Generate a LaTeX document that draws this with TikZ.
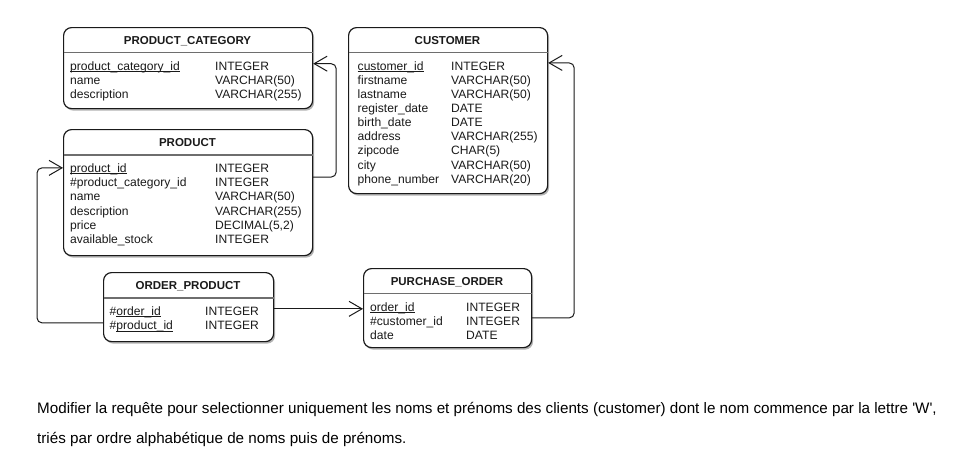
\documentclass[tikz,border=0pt]{standalone}
\usepackage{fontspec}
\setmainfont{Liberation Sans}[Ligatures=TeXOff]
\usetikzlibrary{shadows,arrows.meta}
\definecolor{ink}{HTML}{1A1A1A}
\definecolor{sepc}{HTML}{6E6E6E}
\newcommand\ulfld[1]{\setbox0\hbox{#1}\rlap{\rule[-1.6pt]{\wd0}{0.7pt}}\box0}
\tikzset{
  tbl/.style={draw=ink, line width=1.2pt, rounded corners=8pt, fill=white,
    anchor=north west, inner sep=0pt,
    drop shadow={shadow xshift=1.5pt, shadow yshift=-2pt, fill=black, opacity=0.3}},
  ttl/.style={font=\bfseries\fontsize{11.5}{13}\selectfont, anchor=base, inner sep=0pt, text=ink},
  fld/.style={font=\fontsize{12.1}{13}\selectfont, anchor=base west, inner sep=0pt, text=ink},
  sepl/.style={draw=sepc, line width=1.6pt},
  conn/.style={draw=ink, line width=1pt, rounded corners=5pt},
  tip/.style={-{Straight Barb[length=13pt,width=15pt,line width=1pt]}},
  note/.style={font=\fontsize{15.2}{17}\selectfont, anchor=base west, inner sep=0pt, text=black}
}
\begin{document}
\begin{tikzpicture}[x=1pt,y=-1pt]
\useasboundingbox[fill=white] (0,0) rectangle (962,466);

% ---------- PRODUCT_CATEGORY
\node[tbl, minimum width=249pt, minimum height=81pt] (pc) at (63,27) {};
\draw[sepl] ([yshift=-25.5pt,xshift=0.6pt]pc.north west) -- ([yshift=-25.5pt,xshift=-0.6pt]pc.north east);
\node[ttl] (pct) at (187.5,44) {PRODUCT\_CATEGORY};
\node[fld] (pc1) at (70,70.4) {\ulfld{product\_category\_id}};
\node[fld] (pc2) at (70,84.6) {name};
\node[fld] (pc3) at (70,98.8) {description};
\node[fld] (pcy1) at (215,70.4) {INTEGER};
\node[fld] (pcy2) at (215,84.6) {VARCHAR(50)};
\node[fld] (pcy3) at (215,98.8) {VARCHAR(255)};

% ---------- PRODUCT
\node[tbl, minimum width=249pt, minimum height=126pt] (prod) at (63,129) {};
\draw[sepl] ([yshift=-26pt,xshift=0.6pt]prod.north west) -- ([yshift=-26pt,xshift=-0.6pt]prod.north east);
\node[ttl] (prodt) at (187.5,146.5) {PRODUCT};
\node[fld] (p1) at (70,172.5) {\ulfld{product\_id}};
\node[fld] (p2) at (70,186.7) {\#product\_category\_id};
\node[fld] (p3) at (70,200.9) {name};
\node[fld] (p4) at (70,215.1) {description};
\node[fld] (p5) at (70,229.3) {price};
\node[fld] (p6) at (70,243.5) {available\_stock};
\node[fld] (py1) at (215,172.5) {INTEGER};
\node[fld] (py2) at (215,186.7) {INTEGER};
\node[fld] (py3) at (215,200.9) {VARCHAR(50)};
\node[fld] (py4) at (215,215.1) {VARCHAR(255)};
\node[fld] (py5) at (215,229.3) {DECIMAL(5,2)};
\node[fld] (py6) at (215,243.5) {INTEGER};

% ---------- CUSTOMER
\node[tbl, minimum width=199pt, minimum height=166pt] (cust) at (348,27) {};
\draw[sepl] ([yshift=-25.5pt,xshift=0.6pt]cust.north west) -- ([yshift=-25.5pt,xshift=-0.6pt]cust.north east);
\node[ttl] (custt) at (447.5,44) {CUSTOMER};
\node[fld] (c1) at (357.5,70.3) {\ulfld{customer\_id}};
\node[fld] (c2) at (357.5,84.4) {firstname};
\node[fld] (c3) at (357.5,98.5) {lastname};
\node[fld] (c4) at (357.5,112.6) {register\_date};
\node[fld] (c5) at (357.5,126.7) {birth\_date};
\node[fld] (c6) at (357.5,140.8) {address};
\node[fld] (c7) at (357.5,154.9) {zipcode};
\node[fld] (c8) at (357.5,169) {city};
\node[fld] (c9) at (357.5,183.1) {phone\_number};
\node[fld] (cy1) at (451,70.3) {INTEGER};
\node[fld] (cy2) at (451,84.4) {VARCHAR(50)};
\node[fld] (cy3) at (451,98.5) {VARCHAR(50)};
\node[fld] (cy4) at (451,112.6) {DATE};
\node[fld] (cy5) at (451,126.7) {DATE};
\node[fld] (cy6) at (451,140.8) {VARCHAR(255)};
\node[fld] (cy7) at (451,154.9) {CHAR(5)};
\node[fld] (cy8) at (451,169) {VARCHAR(50)};
\node[fld] (cy9) at (451,183.1) {VARCHAR(20)};

% ---------- ORDER_PRODUCT
\node[tbl, minimum width=170pt, minimum height=69pt] (op) at (103,272) {};
\draw[sepl] ([yshift=-26pt,xshift=0.6pt]op.north west) -- ([yshift=-26pt,xshift=-0.6pt]op.north east);
\node[ttl] (opt) at (188,289.5) {ORDER\_PRODUCT};
\node[fld] (o1) at (109.5,315.5) {\#\ulfld{order\_id}};
\node[fld] (o2) at (109.5,329.7) {\#\ulfld{product\_id}};
\node[fld] (oy1) at (205,315.5) {INTEGER};
\node[fld] (oy2) at (205,329.7) {INTEGER};

% ---------- PURCHASE_ORDER
\node[tbl, minimum width=168pt, minimum height=79pt] (po) at (363,268) {};
\draw[sepl] ([yshift=-25.5pt,xshift=0.6pt]po.north west) -- ([yshift=-25.5pt,xshift=-0.6pt]po.north east);
\node[ttl] (pot) at (447,285) {PURCHASE\_ORDER};
\node[fld] (q1) at (370,311.5) {\ulfld{order\_id}};
\node[fld] (q2) at (370,325.7) {\#customer\_id};
\node[fld] (q3) at (370,339.9) {date};
\node[fld] (qy1) at (466,311.5) {INTEGER};
\node[fld] (qy2) at (466,325.7) {INTEGER};
\node[fld] (qy3) at (466,339.9) {DATE};

% ---------- connectors
\draw[conn,tip] ([yshift=6.5pt]prod.east |- p2) -- ++(23,0) |- ([yshift=3.6pt]pc.east |- pc1);
\draw[conn,tip] ([yshift=3.7pt]op.west |- o2) -- ++(-66,0) |- ([yshift=1.5pt]prod.west |- p1);
\draw[conn,tip] ([yshift=4.6pt]po.east |- q2) -- ++(42,0) |- ([yshift=4.2pt]cust.east |- c1);
\draw[conn,tip] ([yshift=3.5pt]op.east |- o1) -- ([yshift=3.5pt]po.west |- o1);

% ---------- question text
\node[note] (txt1) at (37,413.3) {Modifier la requête pour selectionner uniquement les noms et prénoms des clients (customer) dont le nom commence par la lettre 'W',};
\node[note] (txt2) at (37,443.3) {triés par ordre alphabétique de noms puis de prénoms.};
\end{tikzpicture}
\end{document}
